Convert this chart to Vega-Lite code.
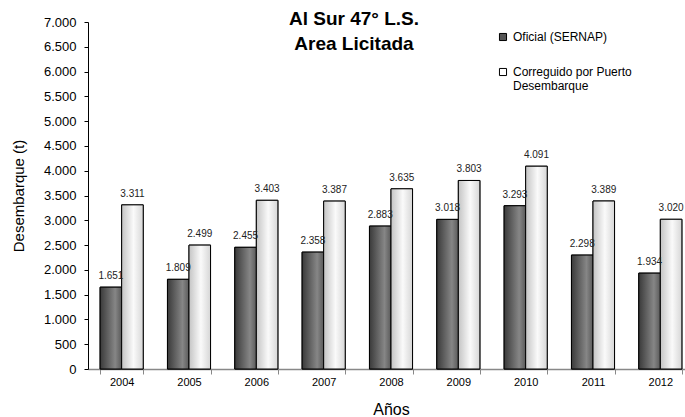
{
  "$schema": "https://vega.github.io/schema/vega-lite/v6.json",
  "width": 606,
  "height": 347,
  "autosize": "none",
  "padding": {"left": 88, "top": 22, "right": 0, "bottom": 48},
  "background": "white",
  "config": {
    "locale": {"number": {"decimal": ",", "thousands": ".", "grouping": [3], "currency": ["$", ""]}},
    "font": "Liberation Sans",
    "view": {"stroke": null}
  },
  "title": {
    "text": ["Al Sur 47° L.S.", "Area Licitada"],
    "fontSize": 19,
    "fontWeight": "bold",
    "font": "Liberation Sans",
    "color": "#000",
    "lineHeight": 25,
    "anchor": "middle",
    "frame": "group",
    "baseline": "top",
    "offset": -38,
    "dx": -37
  },
  "data": {
    "values": [
      {"year": "2004", "serie": "Oficial  (SERNAP)", "value": 1651},
      {"year": "2004", "serie": "Correguido por Puerto Desembarque", "value": 3311},
      {"year": "2005", "serie": "Oficial  (SERNAP)", "value": 1809},
      {"year": "2005", "serie": "Correguido por Puerto Desembarque", "value": 2499},
      {"year": "2006", "serie": "Oficial  (SERNAP)", "value": 2455},
      {"year": "2006", "serie": "Correguido por Puerto Desembarque", "value": 3403},
      {"year": "2007", "serie": "Oficial  (SERNAP)", "value": 2358},
      {"year": "2007", "serie": "Correguido por Puerto Desembarque", "value": 3387},
      {"year": "2008", "serie": "Oficial  (SERNAP)", "value": 2883},
      {"year": "2008", "serie": "Correguido por Puerto Desembarque", "value": 3635},
      {"year": "2009", "serie": "Oficial  (SERNAP)", "value": 3018},
      {"year": "2009", "serie": "Correguido por Puerto Desembarque", "value": 3803},
      {"year": "2010", "serie": "Oficial  (SERNAP)", "value": 3293},
      {"year": "2010", "serie": "Correguido por Puerto Desembarque", "value": 4091},
      {"year": "2011", "serie": "Oficial  (SERNAP)", "value": 2298},
      {"year": "2011", "serie": "Correguido por Puerto Desembarque", "value": 3389},
      {"year": "2012", "serie": "Oficial  (SERNAP)", "value": 1934},
      {"year": "2012", "serie": "Correguido por Puerto Desembarque", "value": 3020}
    ]
  },
  "encoding": {
    "x": {
      "field": "year",
      "type": "nominal",
      "scale": {"paddingInner": 0.36, "paddingOuter": 0.18},
      "axis": {
        "title": "Años",
        "titleFontSize": 16,
        "titleFontWeight": "normal",
        "titleColor": "#000",
        "titlePadding": 14,
        "labelAngle": 0,
        "labelFontSize": 11,
        "labelColor": "#000",
        "labelPadding": 2,
        "domainColor": "#888",
        "domainWidth": 1.5,
        "tickColor": "#888",
        "tickSize": 5,
        "tickBand": "extent"
      }
    },
    "xOffset": {
      "field": "serie",
      "type": "nominal",
      "scale": {"domain": ["Oficial  (SERNAP)", "Correguido por Puerto Desembarque"], "paddingInner": 0, "paddingOuter": 0}
    },
    "y": {
      "field": "value",
      "type": "quantitative",
      "scale": {"domain": [0, 7000], "nice": false},
      "axis": {
        "title": "Desembarque (t)",
        "titleFontSize": 15,
        "titleFontWeight": "normal",
        "titleColor": "#000",
        "titlePadding": 17,
        "values": [0, 500, 1000, 1500, 2000, 2500, 3000, 3500, 4000, 4500, 5000, 5500, 6000, 6500, 7000],
        "format": ",d",
        "labelFontSize": 13,
        "labelColor": "#000",
        "labelPadding": 8,
        "tickSize": 4,
        "tickColor": "#000",
        "domainColor": "#000",
        "grid": false
      }
    }
  },
  "layer": [
    {
      "mark": {"type": "bar", "stroke": "#000", "strokeWidth": 1},
      "encoding": {
        "color": {
          "field": "serie",
          "type": "nominal",
          "scale": {"domain": ["Oficial  (SERNAP)", "Correguido por Puerto Desembarque"], "range": ["#555555", "#ffffff"]},
          "legend": {
            "title": null,
            "orient": "none",
            "legendX": 409,
            "legendY": 9,
            "symbolType": "square",
            "symbolSize": 50,
            "symbolStrokeColor": "#000",
            "symbolStrokeWidth": 1,
            "labelFontSize": 12,
            "labelColor": "#000",
            "labelLimit": 300,
            "rowPadding": 23,
            "labelExpr": "datum.label == 'Correguido por Puerto Desembarque' ? ['Correguido por Puerto', 'Desembarque'] : datum.label"
          }
        }
      }
    },
    {
      "mark": {"type": "bar", "stroke": "#000", "strokeWidth": 1},
      "encoding": {
        "fill": {
          "condition": {
            "test": "datum.serie == 'Oficial  (SERNAP)'",
            "value": {"gradient": "linear", "x1": 0, "y1": 0, "x2": 1, "y2": 0,
              "stops": [{"offset": 0, "color": "#3a3a3a"}, {"offset": 0.7, "color": "#868686"}, {"offset": 1, "color": "#5a5a5a"}]}
          },
          "value": {"gradient": "linear", "x1": 0, "y1": 0, "x2": 1, "y2": 0,
            "stops": [{"offset": 0, "color": "#c4c4c4"}, {"offset": 0.55, "color": "#fafafa"}, {"offset": 1, "color": "#d6d6d6"}]}
        }
      }
    },
    {
      "mark": {"type": "text", "fontSize": 10, "baseline": "bottom", "dy": -6, "color": "#222"},
      "encoding": {
        "text": {"field": "value", "type": "quantitative", "format": ",d"}
      }
    }
  ]
}
